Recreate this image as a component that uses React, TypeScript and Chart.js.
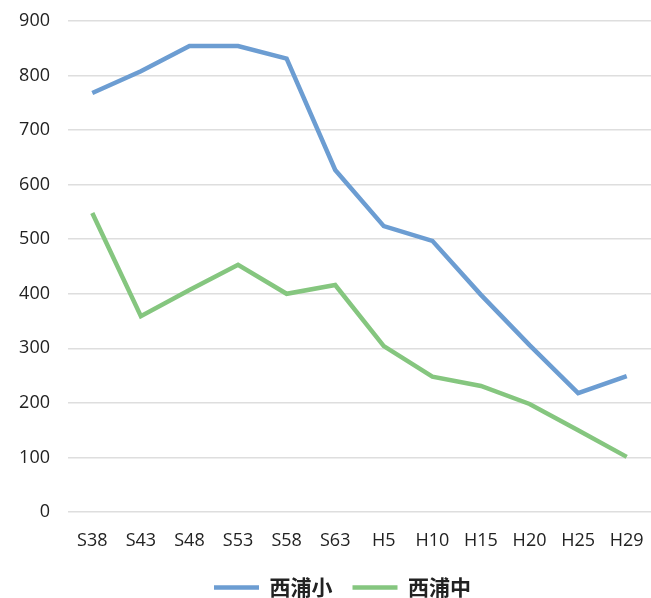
import React, { useEffect, useRef } from "react";
import { Chart, registerables } from "chart.js";

Chart.register(...registerables);

const categories = ["S38", "S43", "S48", "S53", "S58", "S63", "H5", "H10", "H15", "H20", "H25", "H29"];
const elementary = [768, 808, 854, 854, 831, 627, 524, 497, 398, 306, 218, 249];
const juniorHigh = [548, 359, 407, 453, 400, 416, 304, 248, 231, 198, 150, 101];
const seriesNames = ["西浦小", "西浦中"];
const yTicks = [0, 100, 200, 300, 400, 500, 600, 700, 800, 900];

const fixLegend = {
  id: "fixLegend",
  afterInit(chart: any) {
    const lg = chart.legend;
    if (!lg) return;
    const orig = lg.fit.bind(lg);
    lg.fit = () => {
      orig();
      lg.height = 41;
    };
  },
  afterLayout(chart: any) {
    const lg = chart.legend;
    if (!lg) return;
    lg.left += 17;
    lg.right += 17;
  },
};

export default function App() {
  const canvasRef = useRef<HTMLCanvasElement | null>(null);

  useEffect(() => {
    if (!canvasRef.current) return;
    const chart = new Chart(canvasRef.current, {
      type: "line",
      data: {
        labels: categories,
        datasets: [
          {
            label: seriesNames[0],
            data: elementary,
            borderColor: "#6c9dd2",
            backgroundColor: "#6c9dd2",
            borderWidth: 4.5,
            pointRadius: 0,
            tension: 0,
          },
          {
            label: seriesNames[1],
            data: juniorHigh,
            borderColor: "#85c67f",
            backgroundColor: "#85c67f",
            borderWidth: 4.5,
            pointRadius: 0,
            tension: 0,
          },
        ],
      },
      plugins: [fixLegend],
      options: {
        responsive: false,
        animation: false,
        layout: { padding: { top: 21, right: 0, left: 0, bottom: 0 } },
        plugins: {
          tooltip: { enabled: false },
          legend: {
            position: "bottom",
            labels: {
              usePointStyle: true,
              pointStyle: "line",
              pointStyleWidth: 45,
              boxHeight: 21,
              padding: 20,
              color: "#222222",
              font: { family: "'Noto Sans CJK JP'", size: 21, weight: "bold" },
            },
          },
        },
        scales: {
          x: {
            offset: true,
            grid: { display: false, drawTicks: false },
            border: { display: false },
            ticks: {
              color: "#222222",
              padding: 18,
              maxRotation: 0,
              autoSkip: false,
              font: { family: "'Open Sans'", size: 18 },
            },
            afterFit: (s: any) => {
              s.paddingLeft = 0;
              s.paddingRight = 0;
              s.paddingTop = 0;
              s.paddingBottom = 0;
              s.height = 45;
            },
          },
          y: {
            min: 0,
            max: 900,
            afterBuildTicks: (s: any) => {
              s.ticks = yTicks.map((v) => ({ value: v }));
            },
            grid: { color: "#dedede", lineWidth: 1.5, drawTicks: false },
            border: { display: false },
            ticks: {
              color: "#222222",
              padding: 18,
              font: { family: "'Open Sans'", size: 18 },
            },
            afterFit: (s: any) => {
              s.width = 68;
              s.paddingTop = 0;
              s.paddingBottom = 0;
            },
          },
        },
      },
    });
    return () => chart.destroy();
  }, []);

  return (
    <div style={{ position: "fixed", left: 0, top: 0, width: 651, height: 598, background: "#ffffff" }}>
      <canvas ref={canvasRef} width={651} height={598} style={{ display: "block" }} />
    </div>
  );
}
